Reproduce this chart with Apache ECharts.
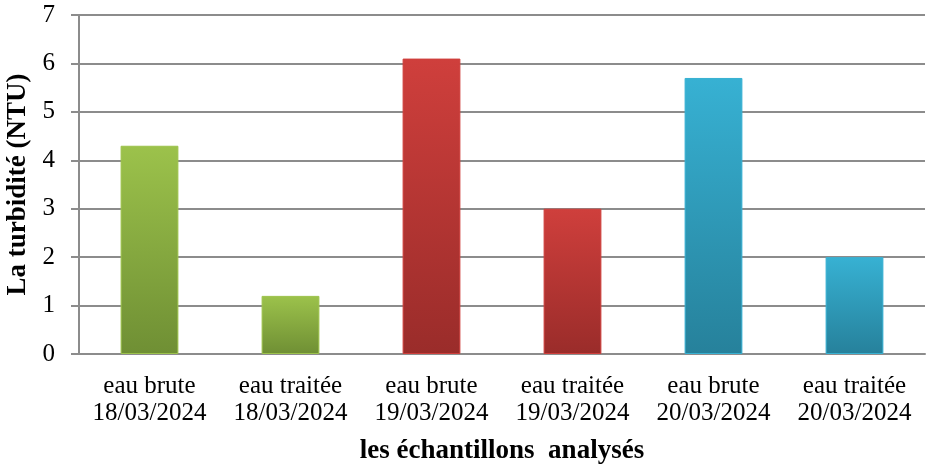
<!DOCTYPE html>
<html>
<head>
<meta charset="utf-8">
<script src="https://cdn.jsdelivr.net/npm/echarts@6/dist/echarts.min.js"></script>
<style>
  html, body { margin: 0; padding: 0; background: #fff; }
  #chart { width: 927px; height: 471px; }
</style>
</head>
<body>
<div id="chart"></div>
<script>
var categories = ['eau brute\n18/03/2024', 'eau traitée\n18/03/2024', 'eau brute\n19/03/2024',
                  'eau traitée\n19/03/2024', 'eau brute\n20/03/2024', 'eau traitée\n20/03/2024'];
var turbidity = [4.3, 1.2, 6.1, 3.0, 5.7, 2.0];
// top / bottom colour of each bar's gradient
var topColors = ['#9cc24b', '#9cc24b', '#cf3f3c', '#cf3f3c', '#37b1d3', '#37b1d3'];
var bottomColors = ['#6f8f34', '#6f8f34', '#9a2c2a', '#9a2c2a', '#26819b', '#26819b'];

var chart = echarts.init(document.getElementById('chart'));

var barData = turbidity.map(function (v, i) {
    return {
        value: v,
        itemStyle: {
            color: new echarts.graphic.LinearGradient(0, 0, 0, 1, [
                { offset: 0, color: topColors[i] },
                { offset: 1, color: bottomColors[i] }
            ]),
            borderColor: topColors[i],
            borderWidth: 1
        }
    };
});

chart.setOption({
    animation: false,
    grid: { left: 79, right: 2, top: 15, bottom: 117, containLabel: false, outerBoundsMode: 'none' },
    textStyle: { fontFamily: 'Liberation Serif' },
    xAxis: {
        type: 'category',
        data: categories,
        name: 'les échantillons  analysés',
        nameLocation: 'middle',
        nameGap: 84,
        nameTextStyle: { fontFamily: 'Liberation Serif', fontSize: 27, fontWeight: 'bold', color: '#000' },
        axisLine: { lineStyle: { color: '#8c8c8c', width: 2 } },
        axisTick: { show: false },
        axisLabel: { interval: 0, fontFamily: 'Liberation Serif', fontSize: 25, color: '#000', lineHeight: 27, margin: 19 }
    },
    yAxis: {
        type: 'value',
        min: 0,
        max: 7,
        interval: 1,
        name: 'La turbidité (NTU)',
        nameLocation: 'middle',
        nameGap: 40,
        nameTextStyle: { fontFamily: 'Liberation Serif', fontSize: 27, fontWeight: 'bold', color: '#000' },
        axisLine: { show: true, lineStyle: { color: '#8c8c8c', width: 2 } },
        axisTick: { show: true, length: 8, lineStyle: { color: '#8c8c8c', width: 2 } },
        axisLabel: { fontFamily: 'Liberation Serif', fontSize: 25, color: '#000', margin: 24 },
        splitLine: { lineStyle: { color: '#8c8c8c', width: 2 } }
    },
    series: [{
        type: 'bar',
        data: barData,
        barWidth: '41%'
    }]
});
</script>
</body>
</html>
